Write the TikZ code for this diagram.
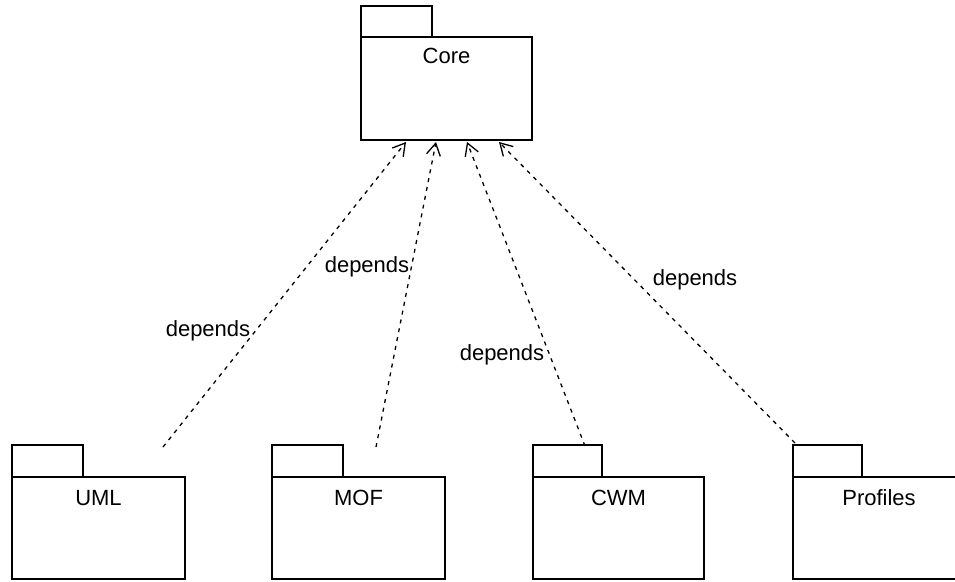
\documentclass[tikz,border=0pt]{standalone}
\usepackage{fontspec}
\setmainfont{Liberation Sans}
\usetikzlibrary{arrows.meta}
\begin{document}
\begin{tikzpicture}[x=1pt,y=-1pt,
  pkg/.style={draw=black,line width=1.4pt,fill=white},
  lbl/.style={font=\fontsize{22}{25}\selectfont,inner sep=0pt},
  dep/.style={draw=black,line width=1.3pt,dash pattern=on 4pt off 5pt,
    -{Straight Barb[length=12pt,width=14pt,line width=1.3pt]}}]
\useasboundingbox (0,0) rectangle (955,581);
\fill[white] (0,0) rectangle (955,581);
% Core
\draw[pkg] (361,6) rectangle (432,37);
\draw[pkg] (361,37) rectangle (532,140);
\node[lbl] (core) at (446.5,56) {Core};
% UML
\draw[pkg] (12,445) rectangle (83,477);
\draw[pkg] (12,477) rectangle (185,579);
\node[lbl] (uml) at (98.5,498) {UML};
% MOF
\draw[pkg] (272,445) rectangle (343,477);
\draw[pkg] (272,477) rectangle (445,579);
\node[lbl] (mof) at (358.5,498) {MOF};
% CWM
\draw[pkg] (533,445) rectangle (602,477);
\draw[pkg] (533,477) rectangle (704,579);
\node[lbl] (cwm) at (618.5,498) {CWM};
% Profiles
\draw[pkg] (793,445) rectangle (862,477);
\draw[pkg] (793,477) rectangle (965,579);
\node[lbl] (prof) at (879,498) {Profiles};
% connector ends
\coordinate (t1) at (406,142);
\coordinate (t2) at (436,142);
\coordinate (t3) at (467,142);
\coordinate (t4) at (499,142);
\coordinate (s1) at (163,447);
\coordinate (s2) at (376,447);
\coordinate (s3) at (585,446);
\coordinate (s4) at (795,443);
\draw[dep] (s1) -- (t1);
\draw[dep] (s2) -- (t2);
\draw[dep] (s3) -- (t3);
\draw[dep] (s4) -- (t4);
% labels
\node[lbl] (d1) at (208,331) {depends};
\node[lbl] (d2) at (367,267) {depends};
\node[lbl] (d3) at (502,355) {depends};
\node[lbl] (d4) at (695,280) {depends};
\end{tikzpicture}
\end{document}
